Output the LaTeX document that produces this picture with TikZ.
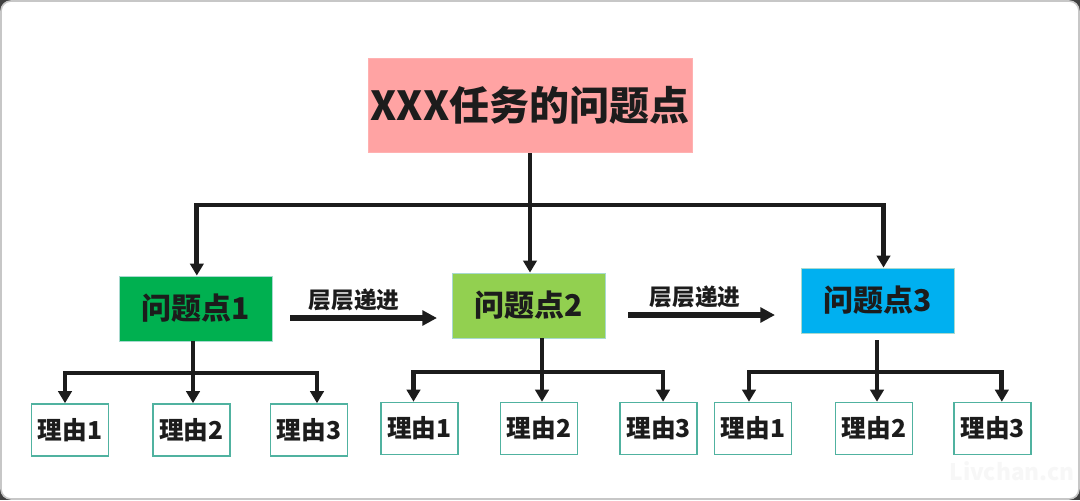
\documentclass[tikz,border=0pt]{standalone}
\usepackage{fontspec}
\newfontfamily\cjk{Noto Sans CJK SC}
\usetikzlibrary{arrows.meta}
\definecolor{qpink}{RGB}{255,163,163}
\definecolor{qgreen}{RGB}{0,176,80}
\definecolor{qlime}{RGB}{146,208,80}
\definecolor{qblue}{RGB}{0,176,240}
\definecolor{qteal}{RGB}{80,178,160}
\definecolor{qink}{RGB}{28,28,28}
\tikzset{
  topbox/.style={rectangle,draw=qpink!85!white,fill=qpink,line width=0.6pt,minimum width=243pt,minimum height=71pt,inner sep=2pt,font=\cjk\bfseries\fontsize{30}{34}\selectfont},
  issuebox/.style={rectangle,draw=qteal!50,line width=0.6pt,minimum width=114.75pt,minimum height=48.75pt,inner sep=2pt,font=\cjk\bfseries\fontsize{22.5}{26}\selectfont},
  reasonbox/.style={rectangle,draw=qteal,line width=1.2pt,fill=white,minimum width=57.5pt,minimum height=39pt,inner sep=1pt,font=\cjk\bfseries\fontsize{18.5}{22}\selectfont},
  treeline/.style={line width=3.6pt,draw=qink},
  treearrow/.style={treeline,-{Triangle[length=9pt,width=10pt]}},
  progarrow/.style={-{Triangle[length=11pt,width=11pt]},line width=4.2pt,draw=qink},
  proglabel/.style={font=\cjk\bfseries\fontsize{17}{19}\selectfont,text=qink,anchor=south,inner sep=0pt}
}

\begin{document}
\begin{tikzpicture}[x=0.75pt,y=-0.75pt,text=qink]
  \fill[black!75] (0,0) rectangle (1080,500);
  \filldraw[fill=white,draw=black!22,line width=1.2pt,rounded corners=7.5pt]
    (1,1) rectangle (1079,499);
  \useasboundingbox (0,0) rectangle (1080,500);
  % boxes
  \node[topbox] (top) at (530,105.5) {XXX任务的问题点};
  \node[issuebox,fill=qgreen] (p1) at (195.5,308.5) {问题点1};
  \node[issuebox,fill=qlime] (p2) at (528.5,305.5) {问题点2};
  \node[issuebox,fill=qblue] (p3) at (877.5,300.5) {问题点3};
  \node[reasonbox] (r11) at (70,430) {理由1};
  \node[reasonbox] (r12) at (191.5,430) {理由2};
  \node[reasonbox] (r13) at (309,430) {理由3};
  \node[reasonbox] (r21) at (419.5,428.5) {理由1};
  \node[reasonbox] (r22) at (539,428.5) {理由2};
  \node[reasonbox] (r23) at (658.5,428.5) {理由3};
  \node[reasonbox] (r31) at (753,428.5) {理由1};
  \node[reasonbox] (r32) at (874,428.5) {理由2};
  \node[reasonbox] (r33) at (992.5,428.5) {理由3};
  % top level tree
  \coordinate (jt) at (530,205);
  \draw[treeline] (top.south) -- (jt);
  \draw[treearrow] (jt) -| ([xshift=1pt]p1.north);
  \draw[treearrow] (jt) -- (jt |- p2.north);
  \draw[treearrow] (jt) -| ([xshift=4.5pt]p3.north);
  % progression
  \coordinate (a1s) at (290,318);
  \coordinate (a1e) at (437,318);
  \coordinate (a2s) at (628,315);
  \coordinate (a2e) at (775,315);
  \draw[progarrow] (a1s) -- (a1e);
  \draw[progarrow] (a2s) -- (a2e);
  \node[proglabel] (lab1) at (354,311) {层层递进};
  \node[proglabel] (lab2) at (695,308) {层层递进};
  % reasons
  \coordinate (b1) at (193,373);
  \coordinate (b2) at (542,372);
  \coordinate (b3) at (877,372);
  \draw[treeline] (p1.south -| b1) -- (b1);
  \draw[treeline] (p2.south -| b2) -- (b2);
  \draw[treeline] ([yshift=-5pt]p3.south -| b3) -- (b3);
  \draw[treearrow] (b1) -| ([xshift=-3.75pt]r11.north);
  \draw[treearrow] (b1) -- (b1 |- r12.north);
  \draw[treearrow] (b1) -| ([xshift=6pt]r13.north);
  \draw[treearrow] (b2) -| ([xshift=-4.5pt]r21.north);
  \draw[treearrow] (b2) -- (b2 |- r22.north);
  \draw[treearrow] (b2) -| ([xshift=3.4pt]r23.north);
  \draw[treearrow] (b3) -| ([xshift=-3pt]r31.north);
  \draw[treearrow] (b3) -- (b3 |- r32.north);
  \draw[treearrow] (b3) -| ([xshift=7pt]r33.north);
  % watermark
  \node[font=\cjk\bfseries\fontsize{17}{19}\selectfont,text=black!3] (mark) at (1012,471) {Livchan.cn};
\end{tikzpicture}
\end{document}
